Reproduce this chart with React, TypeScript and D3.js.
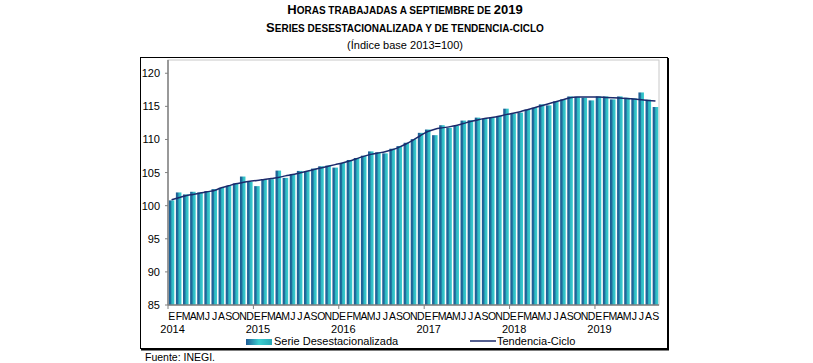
import * as d3 from 'd3';

const MONTHS = ['E', 'F', 'M', 'A', 'M', 'J', 'J', 'A', 'S', 'O', 'N', 'D'];
const YEARS = ['2014', '2015', '2016', '2017', '2018', '2019'];

// Serie desestacionalizada, por año (2019 llega a septiembre)
const SERIE_2014 = [100.8, 102.0, 101.7, 102.1, 102.0, 102.2, 102.5, 102.7, 103.0, 103.35, 104.4, 103.6];
const SERIE_2015 = [102.95, 104.0, 104.0, 105.3, 104.2, 104.75, 105.25, 105.2, 105.6, 105.95, 106.05, 105.75];
const SERIE_2016 = [106.45, 106.9, 107.2, 107.55, 108.2, 108.05, 107.9, 108.6, 109.0, 109.5, 110.05, 111.0];
const SERIE_2017 = [111.5, 110.65, 112.15, 111.75, 112.05, 112.85, 112.9, 113.3, 113.15, 113.3, 113.55, 114.65];
const SERIE_2018 = [113.9, 114.05, 114.5, 114.8, 115.3, 115.15, 115.75, 116.05, 116.5, 116.45, 116.3, 115.9];
const SERIE_2019 = [116.5, 116.5, 116.05, 116.5, 116.3, 116.2, 117.1, 116.0, 114.9];

// Tendencia-ciclo
const TREND_2014 = [100.9, 101.2, 101.5, 101.7, 101.9, 102.1, 102.3, 102.7, 103.0, 103.3, 103.5, 103.7];
const TREND_2015 = [103.8, 103.95, 104.1, 104.25, 104.5, 104.7, 104.95, 105.2, 105.45, 105.7, 105.95, 106.2];
const TREND_2016 = [106.45, 106.75, 107.1, 107.45, 107.75, 107.95, 108.15, 108.45, 108.85, 109.35, 109.95, 110.6];
const TREND_2017 = [111.2, 111.55, 111.75, 111.9, 112.1, 112.4, 112.7, 112.95, 113.15, 113.3, 113.5, 113.75];
const TREND_2018 = [113.95, 114.2, 114.5, 114.8, 115.1, 115.4, 115.7, 116.0, 116.3, 116.4, 116.4, 116.4];
const TREND_2019 = [116.4, 116.35, 116.3, 116.25, 116.2, 116.1, 116.0, 115.9, 115.8];

const Y_TICKS = [85, 90, 95, 100, 105, 110, 115, 120];

const serie = [...SERIE_2014, ...SERIE_2015, ...SERIE_2016, ...SERIE_2017, ...SERIE_2018, ...SERIE_2019];
const trend = [...TREND_2014, ...TREND_2015, ...TREND_2016, ...TREND_2017, ...TREND_2018, ...TREND_2019];

const W = 813;
const H = 363;
const PLOT = { left: 168, right: 659, top: 60, bottom: 305 };
const FONT = '"Liberation Sans", Arial, sans-serif';

export default function App() {
  const idx = d3.range(serie.length);
  const xBand = d3.scaleBand<number>().domain(idx).range([PLOT.left, PLOT.right]).padding(0);
  const xBar = d3.scaleBand<number>().domain(idx).range([PLOT.left, PLOT.right])
    .paddingInner(0.22).paddingOuter(0.11);
  const y = d3.scaleLinear().domain([85, 122]).range([PLOT.bottom, PLOT.top]);
  const cx = (i: number) => (xBand(i) ?? 0) + xBand.bandwidth() / 2;

  const line = d3.line<number>()
    .x((_, i) => cx(i))
    .y((d) => y(d))
    .curve(d3.curveMonotoneX);

  return (
    <svg width={W} height={H} style={{ position: 'absolute', left: 0, top: 0, fontFamily: FONT }}>
      <defs>
        <linearGradient id="barGrad" x1="0" x2="1" y1="0" y2="0">
          <stop offset="0" stopColor="#1e5a94" />
          <stop offset="0.35" stopColor="#1f6f9c" />
          <stop offset="0.55" stopColor="#2fb6c2" />
          <stop offset="1" stopColor="#3ccfd0" />
        </linearGradient>
        <linearGradient id="legGrad" x1="0" x2="1" y1="0" y2="0">
          <stop offset="0" stopColor="#1e5a94" />
          <stop offset="0.5" stopColor="#3ccfd0" />
          <stop offset="1" stopColor="#2aa6b4" />
        </linearGradient>
      </defs>

      {/* titles */}
      <text x={405} y={14} textAnchor="middle" fontWeight="bold" fontSize={13}>
        H<tspan fontSize={10}>ORAS TRABAJADAS A SEPTIEMBRE DE </tspan>2019
      </text>
      <text x={405} y={31.5} textAnchor="middle" fontWeight="bold" fontSize={13}>
        S<tspan fontSize={10}>ERIES DESESTACIONALIZADA Y DE TENDENCIA-CICLO</tspan>
      </text>
      <text x={405} y={49} textAnchor="middle" fontSize={11}>(Índice base 2013=100)</text>

      {/* outer frame */}
      <rect x={140.5} y={57.5} width={527} height={291} fill="none" stroke="#000" strokeWidth={1} />
      <line x1={668} y1={58} x2={668} y2={350} stroke="#000" strokeWidth={2} />
      <line x1={141} y1={349.5} x2={669} y2={349.5} stroke="#000" strokeWidth={2} />

      {/* plot frame */}
      <rect x={PLOT.left} y={PLOT.top} width={PLOT.right - PLOT.left} height={PLOT.bottom - PLOT.top}
        fill="none" stroke="#c8c8c8" strokeWidth={1} />

      {/* bars */}
      {serie.map((v, i) => (
        <rect key={i} x={xBar(i)} y={y(v)} width={xBar.bandwidth()} height={PLOT.bottom - y(v)}
          fill="url(#barGrad)" />
      ))}

      {/* trend */}
      <path d={line(trend) ?? ''} fill="none" stroke="#1b2a6b" strokeWidth={1.5} />

      {/* y axis */}
      <line x1={PLOT.left} y1={PLOT.top} x2={PLOT.left} y2={PLOT.bottom} stroke="#808080" strokeWidth={1.5} />
      {Y_TICKS.map((t) => (
        <g key={t}>
          <line x1={PLOT.left - 3} x2={PLOT.left} y1={y(t)} y2={y(t)} stroke="#808080" />
          <text x={160} y={y(t) + 4} textAnchor="end" fontSize={11}>{t}</text>
        </g>
      ))}

      {/* x axis */}
      <line x1={PLOT.left} y1={PLOT.bottom} x2={PLOT.right} y2={PLOT.bottom} stroke="#808080" strokeWidth={1.5} />
      {YEARS.map((yr, k) => (
        <g key={yr}>
          <line x1={xBand(k * 12)} x2={xBand(k * 12)} y1={PLOT.bottom} y2={PLOT.bottom + 4} stroke="#808080" />
          <text x={cx(k * 12) + 1} y={332.5} textAnchor="middle" fontSize={11}>{yr}</text>
        </g>
      ))}
      {idx.map((i) => (
        <text key={i} x={cx(i)} y={320} textAnchor="middle" fontSize={10.5} letterSpacing={-0.5}>
          {MONTHS[i % 12]}
        </text>
      ))}

      {/* legend */}
      <rect x={246} y={339} width={26} height={6} fill="url(#legGrad)" />
      <text x={274} y={344.5} fontSize={11}>Serie Desestacionalizada</text>
      <line x1={470} x2={496} y1={341} y2={341} stroke="#1b2a6b" strokeWidth={1.5} />
      <text x={497} y={344.5} fontSize={11}>Tendencia-Ciclo</text>

      <text x={145} y={361} fontSize={10.5}>Fuente: INEGI.</text>
    </svg>
  );
}
